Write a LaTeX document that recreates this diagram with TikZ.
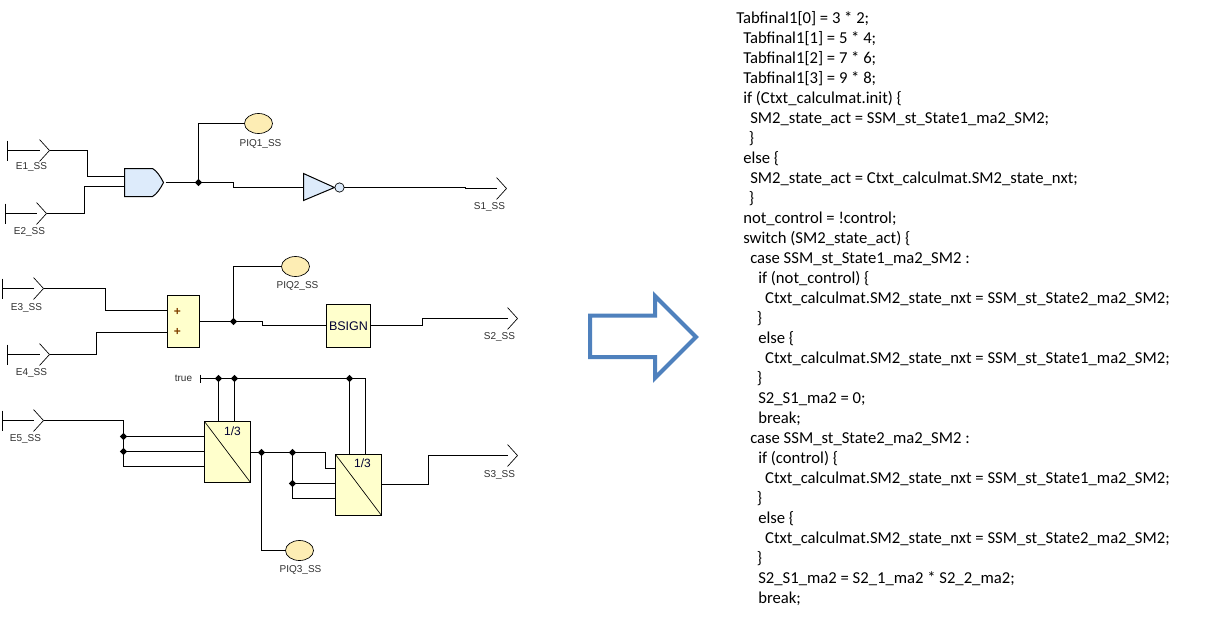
\documentclass[tikz,border=0pt]{standalone}
\usepackage{fontspec}
\setmainfont{Liberation Sans}
\newfontfamily\codefont{Carlito}
\usetikzlibrary{shapes.geometric}
\definecolor{gateblue}{HTML}{DDEBFB}
\definecolor{boxyellow}{HTML}{FFFFCC}
\definecolor{probe}{HTML}{FDEDB4}
\definecolor{bigarrow}{HTML}{4F81BD}
\definecolor{lbl}{HTML}{303030}
\tikzset{
  x=0.75pt,y=-0.75pt,
  wire/.style={draw=black,line width=0.75pt,line join=miter},
  thin wire/.style={draw=black,line width=0.5pt},
  lab/.style={font=\fontsize{7.5pt}{9pt}\selectfont,text=lbl,inner sep=0pt},
  dot/.style={diamond,fill=black,draw=none,minimum size=5.5pt,inner sep=0pt},
  ybox/.style={draw=black,line width=0.75pt,fill=boxyellow,inner sep=0pt,outer sep=0pt},
  div/.style={ybox,minimum width=34.5pt,minimum height=45.75pt},
  piq/.style={ellipse,draw=black,line width=0.5pt,fill=probe,minimum width=21pt,minimum height=15pt,inner sep=0pt,outer sep=0pt},
  blk/.style={font=\fontsize{9pt}{10pt}\selectfont,text=black!80!blue,inner sep=0pt},
  plus sign/.style={font=\fontsize{9pt}{10pt}\selectfont\bfseries,text=black!50!orange,inner sep=0pt},
}
\newcommand{\inport}[4]{%
  \coordinate (#1) at (#3+10,#4);
  \draw[wire] (#2,#4-10) -- (#2,#4+10);
  \draw[wire] (#2,#4) -- (#3,#4);
  \draw[thin wire] (#3,#4-11) -- (#1) -- (#3,#4+11);
}
\newcommand{\outport}[3]{%
  \coordinate (#1) at (#2,#3);
  \draw[thin wire] (#2,#3-11) -- (#2+10,#3) -- (#2,#3+11);
}
\begin{document}
\begin{tikzpicture}
\useasboundingbox (0,0) rectangle (1205,621);
\fill[white] (0,0) rectangle (1205,621);

\begin{scope}[xshift=0.375pt,yshift=-0.375pt]
%----- top network
\inport{eA}{7}{39}{150}
\inport{eB}{5}{36}{213}
\node[lab] (lE1) at (31,167) {E1\_SS};
\node[lab] (lE2) at (29,231) {E2\_SS};
\coordinate (andA) at (124,176);
\coordinate (andB) at (124,186);
\coordinate (andOut) at (163,182);
\draw[wire,fill=gateblue] (124,168) -- (152,168) .. controls (156,170) and (160,176) .. (andOut) .. controls (160,188) and (156,194) .. (152,196) -- (124,196) -- cycle;
\draw[wire] (eA) -| (87,176) -- (andA);
\draw[wire] (eB) -| (84,186) -- (andB);
\node[dot] (j1) at (198,182) {};
\node[piq] (p1) at (258,123) {};
\node[lab] (lP1) at (260,143) {PIQ1\_SS};
\draw[wire] (j1) |- (p1.west);
\draw[wire] (165,182) -- (j1);
\coordinate (invIn) at (303,187);
\draw[wire,fill=gateblue] (303,173) -- (334,187) -- (303,200) -- cycle;
\node[circle,draw=black,line width=0.5pt,fill=gateblue,minimum size=7pt,inner sep=0pt,outer sep=0pt] (inv) at (339,187) {};
\draw[wire] (j1) -- (233,182) -- (233,187) -- (invIn);
\outport{sA}{496}{188}
\draw[wire] (inv.east) -- (465,187) -- (465,188) -- (sA);
\node[lab] (lS1) at (489,206) {S1\_SS};

%----- middle network
\inport{eC}{2}{33}{288}
\inport{eD}{7}{39}{354}
\node[lab] (lE3) at (26,307) {E3\_SS};
\node[lab] (lE4) at (31,372) {E4\_SS};
\node[ybox,minimum width=24pt,minimum height=39pt] (sum) at (183,321) {};
\node[plus sign] (pl1) at (177,311.5) {+};
\node[plus sign] (pl2) at (177,331.5) {+};
\coordinate (sumA) at (167,310);
\coordinate (sumB) at (167,332);
\draw[wire] (eC) -| (105,310) -- (sumA);
\draw[wire] (eD) -| (96,332) -- (sumB);
\node[dot] (j2) at (233,321) {};
\node[piq] (p2) at (295,266) {};
\node[lab] (lP2) at (297,285) {PIQ2\_SS};
\draw[wire] (sum.east) -- (j2);
\draw[wire] (j2) |- (p2.west);
\node[ybox,minimum width=33pt,minimum height=32.25pt,font=\fontsize{9.4pt}{10pt}\selectfont,text=black!80!blue] (bsign) at (348,325.5) {BSIGN};
\coordinate (bsIn) at (326,325);
\coordinate (bsOut) at (370,325);
\draw[wire] (j2) -- (262,321) -- (262,325) -- (bsIn);
\outport{sB}{507}{318}
\draw[wire] (bsOut) -- (422,325) -- (422,318) -- (sB);
\node[lab] (lS2) at (499,336) {S2\_SS};

%----- bottom network
\node[lab] (ltrue) at (183,378) {true};
\coordinate (tr) at (200,378);
\draw[thin wire] (200,374) -- (200,382);
\inport{eE}{2}{33}{420}
\node[lab] (lE5) at (25,438) {E5\_SS};
\node[div] (dA) at (227,451.5) {};
\draw[line width=0.5pt] (dA.north west) -- (dA.south east);
\node[blk] (tA) at (232,431) {1/3};
\node[div] (dB) at (358,484.5) {};
\draw[line width=0.5pt] (dB.north west) -- (dB.south east);
\node[blk] (tB) at (362,463) {1/3};
\node[dot] (t1) at (218,378) {};
\node[dot] (t2) at (234,378) {};
\node[dot] (t3) at (349,378) {};
\draw[wire] (tr) -- (365,378) -- (365,454);
\draw[wire] (t1) -- (218,421);
\draw[wire] (t2) -- (234,421);
\draw[wire] (t3) -- (349,454);
\node[dot] (i1) at (123,436) {};
\node[dot] (i2) at (123,451) {};
\coordinate (i3) at (123,466);
\draw[wire] (eE) -| (i3) -- (dA.west|-i3);
\draw[wire] (i1) -- (dA.west|-i1);
\draw[wire] (i2) -- (dA.west|-i2);
\node[dot] (o1) at (261,452) {};
\node[dot] (o2) at (292,452) {};
\node[dot] (o3) at (292,483) {};
\coordinate (o4) at (292,498);
\draw[wire] (dA.east|-o1) -- (325,452) -- (325,468) -- (dB.west|-0,468);
\draw[wire] (o2) -- (o4) -- (dB.west|-o4);
\draw[wire] (o3) -- (dB.west|-o3);
\node[piq] (p3) at (299,550) {};
\node[lab] (lP3) at (300,569) {PIQ3\_SS};
\draw[wire] (o1) |- (p3.west);
\outport{sC}{507}{455}
\draw[wire] (dB.east|-0,484) -- (428,484) -- (428,455) -- (sC);
\node[lab] (lS3) at (499,474) {S3\_SS};
\end{scope}

%----- big arrow
\draw[draw=bigarrow,line width=3pt,miter limit=10] (590,315.5) -- (655,315.5) -- (655,296) -- (696,337) -- (655,378) -- (655,357) -- (590,357) -- cycle;

%----- code
\node[anchor=north west,inner sep=0pt,align=left,font=\codefont\fontsize{12.5pt}{15pt}\selectfont] (code) at (736,11) {%
Tabfinal1[0] = 3 * 2;\\
\hspace*{5.25pt}Tabfinal1[1] = 5 * 4;\\
\hspace*{5.25pt}Tabfinal1[2] = 7 * 6;\\
\hspace*{5.25pt}Tabfinal1[3] = 9 * 8;\\
\hspace*{5.25pt}if (Ctxt\_calculmat.init) \{\\
\hspace*{10.5pt}SM2\_state\_act = SSM\_st\_State1\_ma2\_SM2;\\
\hspace*{9.5pt}\}\\
\hspace*{5.25pt}else \{\\
\hspace*{10.5pt}SM2\_state\_act = Ctxt\_calculmat.SM2\_state\_nxt;\\
\hspace*{9.5pt}\}\\
\hspace*{5.25pt}not\_control = !control;\\
\hspace*{5.25pt}switch (SM2\_state\_act) \{\\
\hspace*{10.5pt}case SSM\_st\_State1\_ma2\_SM2 :\\
\hspace*{16.5pt}if (not\_control) \{\\
\hspace*{21.7pt}Ctxt\_calculmat.SM2\_state\_nxt = SSM\_st\_State2\_ma2\_SM2;\\
\hspace*{15.5pt}\}\\
\hspace*{16.5pt}else \{\\
\hspace*{21.7pt}Ctxt\_calculmat.SM2\_state\_nxt = SSM\_st\_State1\_ma2\_SM2;\\
\hspace*{15.5pt}\}\\
\hspace*{16.5pt}S2\_S1\_ma2 = 0;\\
\hspace*{16.5pt}break;\\
\hspace*{10.5pt}case SSM\_st\_State2\_ma2\_SM2 :\\
\hspace*{16.5pt}if (control) \{\\
\hspace*{21.7pt}Ctxt\_calculmat.SM2\_state\_nxt = SSM\_st\_State1\_ma2\_SM2;\\
\hspace*{15.5pt}\}\\
\hspace*{16.5pt}else \{\\
\hspace*{21.7pt}Ctxt\_calculmat.SM2\_state\_nxt = SSM\_st\_State2\_ma2\_SM2;\\
\hspace*{15.5pt}\}\\
\hspace*{16.5pt}S2\_S1\_ma2 = S2\_1\_ma2 * S2\_2\_ma2;\\
\hspace*{16.5pt}break;};
\end{tikzpicture}
\end{document}
